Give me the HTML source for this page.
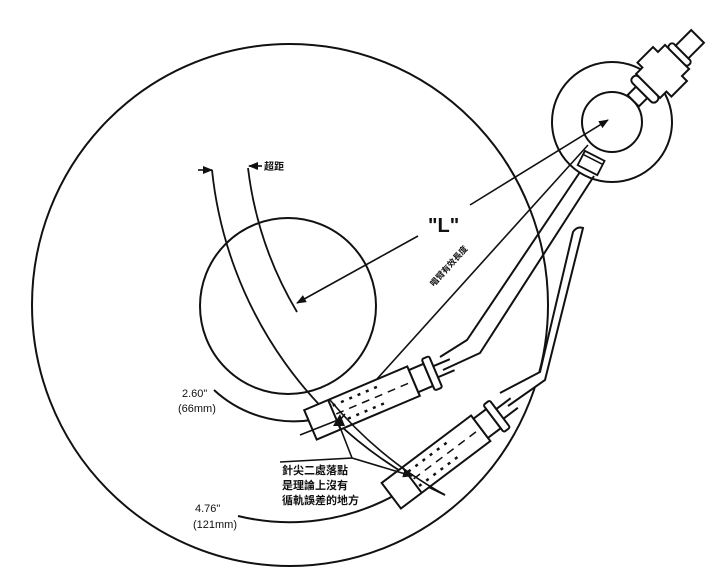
<!DOCTYPE html>
<html><head><meta charset="utf-8">
<style>
html,body{margin:0;padding:0;background:#fff;}
svg{display:block;}
text{font-family:"Liberation Sans","Noto Sans CJK TC",sans-serif;fill:#111;}
</style></head>
<body>
<svg width="725" height="581" viewBox="0 0 725 581" xmlns="http://www.w3.org/2000/svg">
<defs>
<marker id="ah" markerWidth="10" markerHeight="8" refX="9" refY="4" orient="auto" markerUnits="userSpaceOnUse">
<path d="M0,0 L10,4 L0,8 z" fill="#111"/>
</marker>
</defs>
<g fill="none" stroke="#111" stroke-width="2">
<!-- platter -->
<ellipse cx="290" cy="305" rx="258" ry="261"/>
<!-- label -->
<circle cx="288" cy="306" r="88"/>
<!-- radius arcs -->
<path d="M214,390 A118,118 0 0 0 312,420"/>
<path d="M238,516 A218,218 0 0 0 395,495"/>
<!-- tracking arcs centered at pivot -->
<path d="M212,170 A403,403 0 0 0 445,495" stroke-width="1.8"/>
<path d="M248,168 A367,367 0 0 0 297,312" stroke-width="1.8"/>
<!-- top arrows -->
<line x1="198" y1="170" x2="212" y2="170" marker-end="url(#ah)" stroke-width="1.6"/>
<line x1="262" y1="166" x2="249" y2="166" marker-end="url(#ah)" stroke-width="1.6"/>
<!-- L line -->
<line x1="470" y1="205" x2="608" y2="120" stroke-width="1.6" marker-end="url(#ah)"/>
<line x1="418" y1="236" x2="297" y2="303" stroke-width="1.6" marker-end="url(#ah)"/>
<!-- effective length line -->
<line x1="588" y1="145" x2="340" y2="420" stroke-width="1.6"/>
<!-- pivot -->
<circle cx="612" cy="122" r="60"/>
<circle cx="612" cy="122" r="30"/>
<!-- counterweight assembly -->
<g transform="translate(612,122) rotate(-45)">
<rect x="30" y="-8" width="12" height="16" fill="#fff"/>
<rect x="42" y="-17" width="9" height="34" rx="4" fill="#fff"/>
<path d="M51,-17 L60,-17 L60,-24 L82,-24 L82,-17 L92,-17 L92,17 L82,17 L82,24 L60,24 L60,17 L51,17 z" fill="#fff"/>
<rect x="92" y="-14" width="7" height="28" rx="3" fill="#fff"/>
<rect x="99" y="-9" width="22" height="18" fill="#fff"/>
</g>
<g transform="translate(612,122) rotate(117)">
<rect x="38" y="-11" width="16" height="22" fill="#fff" stroke-width="1.8"/>
<line x1="42" y1="-11" x2="42" y2="11" stroke-width="1.5"/>
</g>
<!-- arm 1 tube -->
<path d="M440,357 L467,340 L580,172" fill="none"/>
<path d="M443,370 L480,353 L594,176" fill="none"/>
<!-- arm 2 tube -->
<path d="M500,393 L540,372 L573,232 Q577,226 583,228 L545,380 L508,406" fill="#fff"/>
<!-- cartridge 1 -->
<g transform="translate(362,403) rotate(-23)">
<rect x="-56" y="-16" width="112" height="32" fill="#fff"/>
<line x1="-30" y1="-16" x2="-30" y2="16"/>
<line x1="-28" y1="0" x2="56" y2="0" stroke-dasharray="8,6" stroke-width="1.5"/>
<line x1="-28" y1="-9" x2="20" y2="-9" stroke-dasharray="3,6" stroke-width="2.5"/>
<line x1="-28" y1="9" x2="20" y2="9" stroke-dasharray="3,6" stroke-width="2.5"/>
<rect x="56" y="-12" width="16" height="24" fill="#fff"/>
<rect x="72" y="-17" width="8" height="34" rx="2" fill="#fff"/>
<line x1="80" y1="-6" x2="98" y2="-6"/>
<line x1="80" y1="6" x2="98" y2="6"/>
</g>
<!-- cartridge 2 -->
<g transform="translate(436,462) rotate(-37)">
<rect x="-56" y="-16" width="112" height="32" fill="#fff"/>
<line x1="-30" y1="-16" x2="-30" y2="16"/>
<line x1="-28" y1="0" x2="56" y2="0" stroke-dasharray="8,6" stroke-width="1.5"/>
<line x1="-28" y1="-9" x2="20" y2="-9" stroke-dasharray="3,6" stroke-width="2.5"/>
<line x1="-28" y1="9" x2="20" y2="9" stroke-dasharray="3,6" stroke-width="2.5"/>
<rect x="56" y="-12" width="16" height="24" fill="#fff"/>
<rect x="72" y="-17" width="8" height="34" rx="2" fill="#fff"/>
<line x1="80" y1="-6" x2="98" y2="-6"/>
<line x1="80" y1="6" x2="98" y2="6"/>
</g>
<!-- redraw lines over cartridges -->
<line x1="345" y1="414" x2="340" y2="420" stroke-width="1.6"/>
<path d="M300,435 L338,420" stroke-width="1.6"/>
<path d="M330,400 A403,403 0 0 0 445,495" stroke-width="1.6"/>
<!-- leader -->
<path d="M280,462 L352,458 L338,422" stroke-width="1.6"/>
<path d="M352,458 L412,476" stroke-width="1.6" marker-end="url(#ah)"/>
</g>
<path d="M333,426 L340,414 L345,426 z" fill="#111"/>
<!-- text -->
<text x="264" y="170" font-size="10" font-weight="bold">超距</text>
<text x="428" y="232" font-size="20" font-weight="bold">"L"</text>
<text transform="translate(451,268) rotate(-48)" font-size="8.5" font-weight="bold" text-anchor="middle">唱臂有效長度</text>
<text x="182" y="397" font-size="11">2.60"</text>
<text x="178" y="412" font-size="11">(66mm)</text>
<text x="195" y="512" font-size="11">4.76"</text>
<text x="193" y="528" font-size="11">(121mm)</text>
<text x="282" y="474" font-size="11" font-weight="bold">針尖二處落點</text>
<text x="282" y="489" font-size="11" font-weight="bold">是理論上沒有</text>
<text x="282" y="504" font-size="11" font-weight="bold">循軌誤差的地方</text>
</svg>
</body></html>
